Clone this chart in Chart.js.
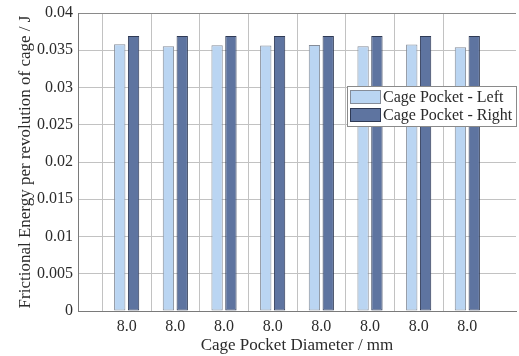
<!DOCTYPE html>
<html>
<head>
<meta charset="utf-8">
<script src="https://cdn.jsdelivr.net/npm/chart.js@4.4.1/dist/chart.umd.min.js"></script>
<style>
  html, body { margin: 0; padding: 0; background: #fff; overflow: hidden; }
  #wrap { width: 519px; height: 356px; overflow: hidden; position: relative; }
  #box { width: 522px; height: 356px; }
</style>
</head>
<body>
<div id="wrap"><div id="box"><canvas id="grafica"></canvas></div></div>
<script>
// Datos
const categorias = ["8.0", "8.0", "8.0", "8.0", "8.0", "8.0", "8.0", "8.0"];
const izquierda = [0.0358, 0.03554, 0.03567, 0.03563, 0.03572, 0.03554, 0.03576, 0.0354];
const derecha = [0.0369, 0.0369, 0.0369, 0.0369, 0.0369, 0.0369, 0.0369, 0.0369];
const nombres = ["Cage Pocket - Left", "Cage Pocket - Right"];

const serif = '"Liberation Serif", "Times New Roman", serif';

// hueco vacio a cada lado, como en la figura
const etiquetas = ["", ...categorias, ""];
const relleno = arr => [null, ...arr, null];

// Leyenda dentro del area de la grafica
const leyendaInterna = {
    id: 'leyendaInterna',
    afterDraw(chart) {
        const ctx = chart.ctx;
        const a = chart.chartArea;
        const x = a.left + 269, y = a.top + 73, w = 169, h = 40;
        ctx.save();
        ctx.fillStyle = '#fff';
        ctx.fillRect(x, y, w, h);
        ctx.strokeStyle = '#8a8a8a';
        ctx.lineWidth = 1;
        ctx.strokeRect(x + 0.5, y + 0.5, w, h);
        chart.data.datasets.forEach((ds, i) => {
            const sy = y + 4 + i * 18;
            ctx.fillStyle = ds.backgroundColor;
            ctx.fillRect(x + 3, sy, 31, 14);
            ctx.strokeStyle = ds.borderColor;
            ctx.strokeRect(x + 3.5, sy + 0.5, 30, 13);
            ctx.fillStyle = '#2a2a2a';
            ctx.font = '16px ' + serif;
            ctx.textBaseline = 'middle';
            ctx.fillText(ds.label, x + 36, sy + 8);
        });
        ctx.restore();
    }
};

const ctx = document.getElementById('grafica').getContext('2d');
new Chart(ctx, {
    type: 'bar',
    data: {
        labels: etiquetas,
        datasets: [{
            label: nombres[0],
            data: relleno(izquierda),
            backgroundColor: '#bad5f2',
            borderColor: '#858c98',
            borderWidth: 1,
            borderSkipped: false
        }, {
            label: nombres[1],
            data: relleno(derecha),
            backgroundColor: '#5e74a0',
            borderColor: '#2f3a55',
            borderWidth: 1,
            borderSkipped: false
        }]
    },
    options: {
        responsive: true,
        maintainAspectRatio: false,
        animation: false,
        layout: { padding: { left: 11, top: 9, right: 0, bottom: 0 } },
        datasets: { bar: { categoryPercentage: 0.568, barPercentage: 0.82 } },
        plugins: { legend: { display: false }, tooltip: { enabled: false } },
        scales: {
            x: {
                offset: false,
                grid: {
                    drawTicks: false,
                    color: c => (c.index === 0 || c.index === etiquetas.length - 1) ? 'rgba(0,0,0,0)' : '#c2c2c2'
                },
                border: { color: '#7a7a7a' },
                ticks: { padding: 6, color: '#2b2b2b', font: { family: serif, size: 16 }, autoSkip: false, maxRotation: 0 },
                title: {
                    display: true,
                    text: 'Cage Pocket Diameter / mm',
                    color: '#2b2b2b',
                    padding: { top: 0, bottom: 0 },
                    font: { family: serif, size: 17 }
                },
                afterFit: s => { s.height = 45; }
            },
            y: {
                min: 0,
                max: 0.04,
                grid: {
                    drawTicks: false,
                    color: c => c.index === 8 ? '#8a8a8a' : '#c2c2c2'
                },
                border: { color: '#7a7a7a' },
                ticks: {
                    stepSize: 0.005,
                    padding: 5,
                    color: '#2b2b2b',
                    font: { family: serif, size: 16, lineHeight: 1 },
                    callback: v => String(Number(v.toFixed(3)))
                },
                title: {
                    display: true,
                    text: 'Frictional Energy per revolution of cage / J',
                    color: '#2b2b2b',
                    padding: { top: 4, bottom: 0 },
                    font: { family: serif, size: 17 }
                },
                afterFit: s => { s.width = 67; }
            }
        }
    },
    plugins: [leyendaInterna]
});
</script>
</body>
</html>
